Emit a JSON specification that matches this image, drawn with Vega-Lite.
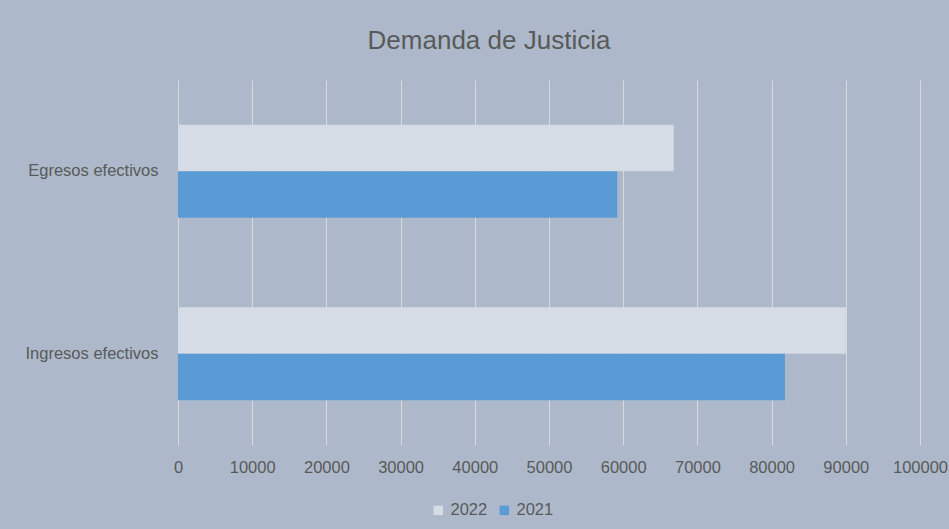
{
  "$schema": "https://vega.github.io/schema/vega-lite/v6.json",
  "autosize": {"type": "none"},
  "width": 742,
  "height": 365,
  "padding": {"left": 178, "top": 80, "right": 29, "bottom": 84},
  "background": "#adb9ca",
  "title": {
    "text": "Demanda de Justicia",
    "fontSize": 26,
    "font": "Liberation Sans",
    "fontWeight": "normal",
    "color": "#595959",
    "anchor": "middle",
    "dx": -60,
    "offset": 26
  },
  "data": {
    "values": [
      {"categoria": "Egresos efectivos", "anio": "2022", "valor": 66800},
      {"categoria": "Egresos efectivos", "anio": "2021", "valor": 59200},
      {"categoria": "Ingresos efectivos", "anio": "2022", "valor": 90000},
      {"categoria": "Ingresos efectivos", "anio": "2021", "valor": 81800}
    ]
  },
  "mark": {"type": "bar"},
  "encoding": {
    "y": {
      "field": "categoria",
      "type": "nominal",
      "sort": ["Egresos efectivos", "Ingresos efectivos"],
      "scale": {"paddingInner": 0.49, "paddingOuter": 0.245},
      "axis": {
        "title": null,
        "domain": false,
        "ticks": false,
        "labelPadding": 20,
        "labelFontSize": 16.5,
        "labelFont": "Liberation Sans",
        "labelColor": "#595959"
      }
    },
    "yOffset": {"field": "anio", "type": "nominal", "sort": ["2022", "2021"], "scale": {"paddingInner": 0}},
    "x": {
      "field": "valor",
      "type": "quantitative",
      "scale": {"domain": [0, 100000], "nice": false},
      "axis": {
        "title": null,
        "values": [0, 10000, 20000, 30000, 40000, 50000, 60000, 70000, 80000, 90000, 100000],
        "format": "d",
        "domain": false,
        "ticks": false,
        "grid": true,
        "gridColor": "#d9d9d9",
        "gridWidth": 1,
        "labelFlush": false,
        "labelOverlap": false,
        "labelBound": false,
        "labelPadding": 14,
        "labelFontSize": 16.5,
        "labelFont": "Liberation Sans",
        "labelColor": "#595959"
      }
    },
    "color": {
      "field": "anio",
      "type": "nominal",
      "scale": {"domain": ["2022", "2021"], "range": ["#d6dce5", "#5b9bd5"]},
      "legend": {
        "title": null,
        "orient": "none",
        "direction": "horizontal",
        "legendX": 252,
        "legendY": 422,
        "symbolType": "square",
        "symbolSize": 90,
        "symbolStrokeWidth": 0,
        "labelFontSize": 16.5,
        "labelFont": "Liberation Sans",
        "labelColor": "#595959",
        "columnPadding": 8,
        "labelOffset": 4
      }
    }
  },
  "config": {"view": {"stroke": null}}
}
